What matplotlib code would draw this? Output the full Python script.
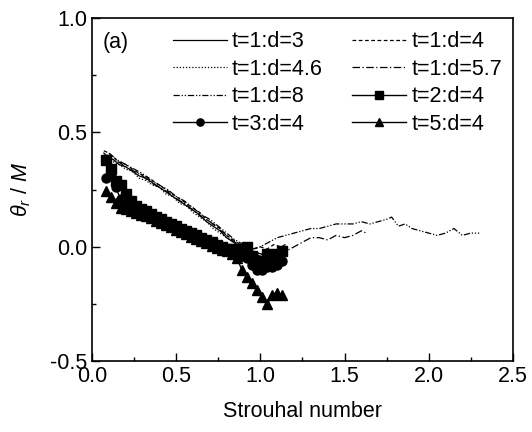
import matplotlib
matplotlib.use("Agg")
import matplotlib.pyplot as plt
from matplotlib.ticker import MultipleLocator

plt.rcParams['font.family'] = ['Liberation Sans', 'DejaVu Sans']
plt.rcParams['mathtext.fontset'] = 'custom'
plt.rcParams['mathtext.rm'] = 'Liberation Sans'
plt.rcParams['mathtext.it'] = 'Liberation Sans:italic'
plt.rcParams['axes.unicode_minus'] = False

# t=1 lines
st_d3 = [0.07, 0.10, 0.13, 0.16, 0.20, 0.24, 0.28, 0.32, 0.36, 0.40, 0.44, 0.48, 0.52, 0.56, 0.60,
         0.64, 0.68, 0.72, 0.76, 0.80, 0.84, 0.88, 0.92, 0.96, 1.00, 1.04, 1.08, 1.12, 1.15]
th_d3 = [0.41, 0.39, 0.38, 0.36, 0.35, 0.33, 0.31, 0.30, 0.28, 0.26, 0.24, 0.22, 0.20, 0.18, 0.16,
         0.14, 0.11, 0.09, 0.07, 0.04, 0.02, 0.00, -0.01, -0.02, -0.03, -0.04, -0.03, -0.03, -0.02]
th_d4 = [0.42, 0.41, 0.39, 0.37, 0.36, 0.34, 0.32, 0.31, 0.29, 0.27, 0.25, 0.23, 0.21, 0.19, 0.17,
         0.15, 0.12, 0.10, 0.08, 0.05, 0.03, 0.01, 0.00, -0.01, 0.00, -0.01, 0.01, 0.00, 0.01]
th_d46 = [0.40, 0.40, 0.37, 0.36, 0.34, 0.33, 0.30, 0.29, 0.27, 0.26, 0.23, 0.22, 0.19, 0.18, 0.15,
          0.13, 0.11, 0.08, 0.06, 0.04, 0.02, 0.00, -0.02, -0.03, -0.03, -0.05, -0.04, -0.06, -0.05]

st_d57 = [0.08, 0.12, 0.16, 0.20, 0.25, 0.30, 0.35, 0.40, 0.45, 0.50, 0.55, 0.60, 0.65, 0.70, 0.75,
          0.80, 0.85, 0.90, 0.95, 1.00, 1.05, 1.10, 1.15, 1.20, 1.25, 1.30, 1.35, 1.40, 1.45, 1.50,
          1.55, 1.60, 1.63]
th_d57 = [0.40, 0.38, 0.37, 0.35, 0.33, 0.31, 0.28, 0.26, 0.24, 0.21, 0.19, 0.16, 0.13, 0.11, 0.08,
          0.05, 0.02, -0.01, -0.03, -0.04, -0.05, -0.04, -0.02, 0.00, 0.02, 0.04, 0.04, 0.03, 0.05, 0.04,
          0.05, 0.07, 0.06]

st_d8 = [0.10, 0.15, 0.20, 0.25, 0.30, 0.35, 0.40, 0.45, 0.50, 0.55, 0.60, 0.65, 0.70, 0.75, 0.80,
         0.85, 0.90, 0.95, 1.00, 1.05, 1.10, 1.15, 1.20, 1.25, 1.30, 1.35, 1.40, 1.45, 1.50, 1.55,
         1.60, 1.65, 1.70, 1.75, 1.78, 1.82, 1.86, 1.90, 1.95, 2.00, 2.05, 2.10, 2.15, 2.20, 2.25, 2.30]
th_d8 = [0.41, 0.38, 0.36, 0.34, 0.32, 0.29, 0.27, 0.25, 0.22, 0.20, 0.17, 0.14, 0.12, 0.09, 0.06,
         0.03, 0.01, -0.01, 0.00, 0.02, 0.04, 0.05, 0.06, 0.07, 0.08, 0.08, 0.09, 0.10, 0.10, 0.10,
         0.11, 0.10, 0.11, 0.12, 0.13, 0.09, 0.10, 0.08, 0.07, 0.06, 0.05, 0.06, 0.08, 0.05, 0.06, 0.06]

# d=4 with symbols
st_sym = [0.08, 0.11, 0.14, 0.17, 0.20, 0.23, 0.26, 0.29, 0.32, 0.35, 0.38, 0.41, 0.44, 0.47, 0.50,
          0.53, 0.56, 0.59, 0.62, 0.65, 0.68, 0.71, 0.74, 0.77, 0.80, 0.83, 0.86, 0.89, 0.92, 0.95,
          0.98, 1.01, 1.04, 1.07, 1.10, 1.13]
th_t2 = [0.38, 0.34, 0.29, 0.27, 0.23, 0.20, 0.18, 0.165, 0.155, 0.145, 0.13, 0.12, 0.11, 0.10, 0.09,
         0.08, 0.07, 0.06, 0.05, 0.04, 0.03, 0.02, 0.01, 0.00, -0.01, -0.01, -0.02, -0.01, 0.00, -0.04,
         -0.06, -0.07, -0.03, -0.05, -0.03, -0.02]
th_t3 = [0.30, 0.31, 0.26, 0.21, 0.19, 0.17, 0.16, 0.15, 0.14, 0.13, 0.12, 0.11, 0.10, 0.09, 0.08,
         0.07, 0.06, 0.05, 0.04, 0.03, 0.02, 0.01, 0.00, -0.01, -0.02, -0.02, -0.03, -0.04, -0.05, -0.08,
         -0.10, -0.10, -0.09, -0.09, -0.08, -0.06]
th_t5 = [0.245, 0.22, 0.19, 0.17, 0.165, 0.155, 0.15, 0.14, 0.135, 0.125, 0.115, 0.105, 0.095, 0.085, 0.075,
         0.065, 0.055, 0.045, 0.035, 0.025, 0.015, 0.005, -0.005, -0.015, -0.02, -0.03, -0.05, -0.10, -0.13, -0.16,
         -0.19, -0.22, -0.25, -0.21, -0.20, -0.21]

fig = plt.figure(figsize=(5.32, 4.32), dpi=100)
ax = fig.add_axes([0.173, 0.164, 0.791, 0.794])

lw = 0.9
h = {}
h['d3'], = ax.plot(st_d3, th_d3, color='black', lw=lw, ls='-', label='t=1:d=3')
h['d4'], = ax.plot(st_d3, th_d4, color='black', lw=lw, ls=(0, (3, 2)), label='t=1:d=4')
h['d46'], = ax.plot(st_d3, th_d46, color='black', lw=lw, ls=(0, (1, 1.5)), label='t=1:d=4.6')
h['d57'], = ax.plot(st_d57, th_d57, color='black', lw=lw, ls=(0, (6, 2, 1, 2)), label='t=1:d=5.7')
h['d8'], = ax.plot(st_d8, th_d8, color='black', lw=lw, ls=(0, (5, 1.5, 1, 1.5, 1, 1.5)), label='t=1:d=8')
h['t2'], = ax.plot(st_sym, th_t2, color='black', lw=1.0, marker='s', ms=6.5, label='t=2:d=4')
h['t3'], = ax.plot(st_sym, th_t3, color='black', lw=1.0, marker='o', ms=6.5, label='t=3:d=4')
h['t5'], = ax.plot(st_sym, th_t5, color='black', lw=1.0, marker='^', ms=7, label='t=5:d=4')

ax.set_xlim(0.0, 2.5)
ax.set_ylim(-0.5, 1.0)
ax.xaxis.set_major_locator(MultipleLocator(0.5))
ax.yaxis.set_major_locator(MultipleLocator(0.5))
ax.xaxis.set_minor_locator(MultipleLocator(0.25))
ax.yaxis.set_minor_locator(MultipleLocator(0.25))
ax.tick_params(which='both', direction='in', labelsize=15.5, top=False, right=False)
ax.tick_params(which='major', length=6, width=1)
ax.tick_params(which='minor', length=3, width=1)
for s in ax.spines.values():
    s.set_linewidth(1.2)

ax.set_xlabel('Strouhal number', fontsize=15.5, labelpad=10)
ax.set_ylabel(r'$\theta_r$ / $M$', fontsize=15.5, labelpad=12)

ax.text(0.026, 0.93, '(a)', transform=ax.transAxes, fontsize=15.5, va='center', ha='left')

# legend fills column-wise, so order gives row-wise reading like the reference
order = ['d3', 'd46', 'd8', 't3', 'd4', 'd57', 't2', 't5']
ax.legend([h[k] for k in order], [h[k].get_label() for k in order],
          loc='upper left', bbox_to_anchor=(0.192, 0.962), ncol=2, frameon=False,
          fontsize=15.5, handlelength=2.5, handletextpad=0.25, labelspacing=0.3,
          columnspacing=1.35, borderpad=0, borderaxespad=0, numpoints=1, markerscale=0.8)

fig.savefig('out.png', dpi=100)
